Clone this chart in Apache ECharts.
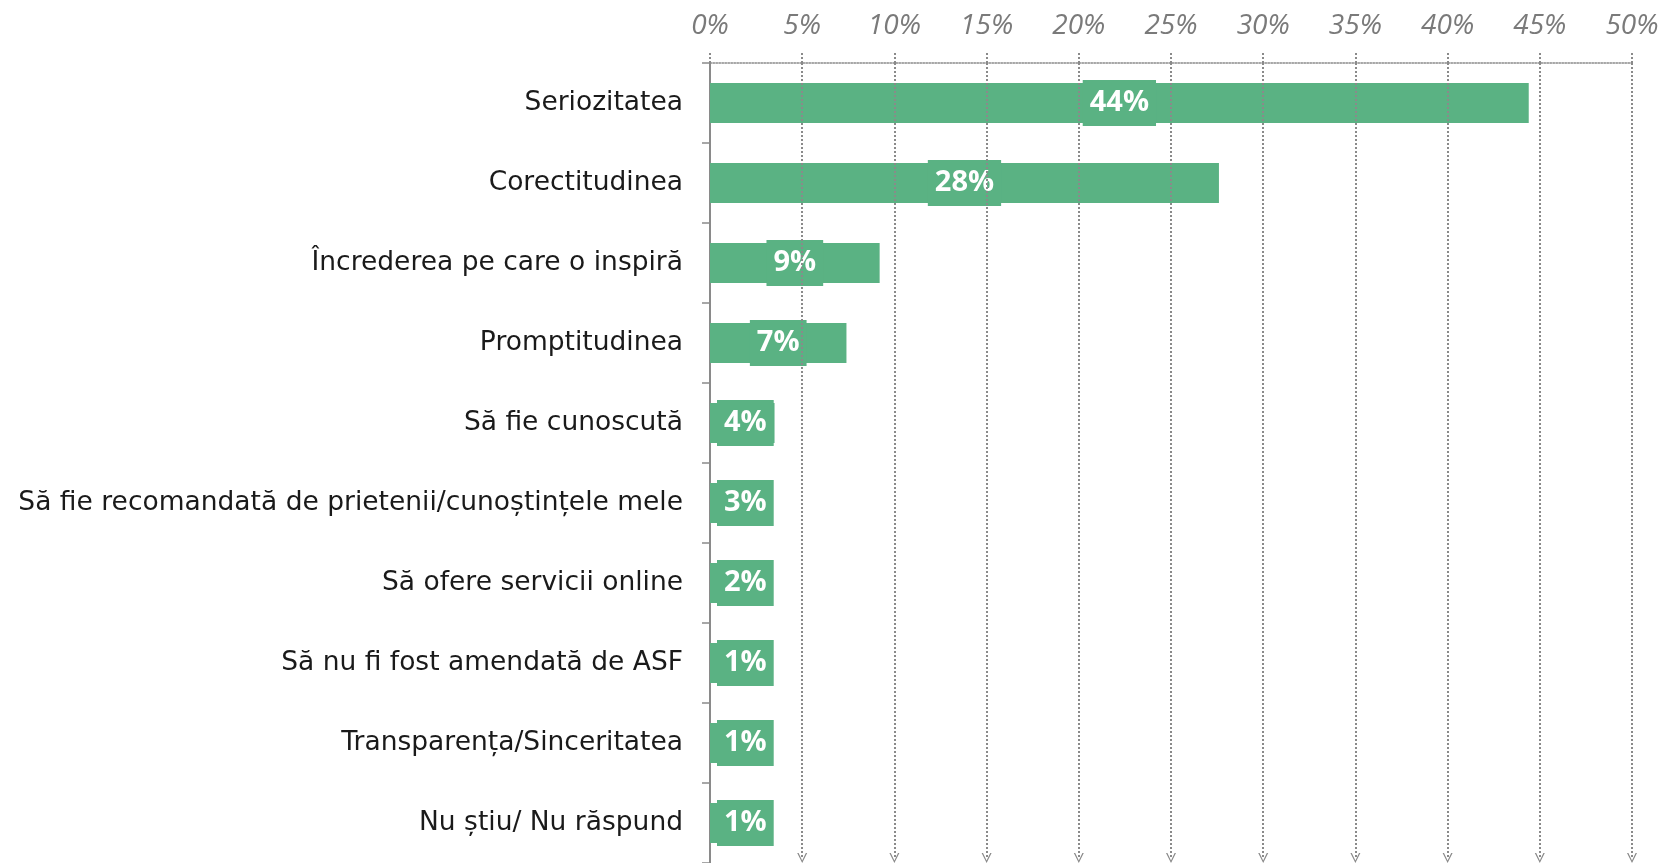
<!DOCTYPE html>
<html>
<head>
<meta charset="utf-8">
<script src="https://cdn.jsdelivr.net/npm/echarts@6/dist/echarts.min.js"></script>
<style>
  html, body { margin: 0; padding: 0; background: #fff; }
  #chart { width: 1670px; height: 863px; }
</style>
</head>
<body>
<div id="chart"></div>
<script>
const categories = [
  "Seriozitatea",
  "Corectitudinea",
  "Încrederea pe care o inspiră",
  "Promptitudinea",
  "Să fie cunoscută",
  "Să fie recomandată de prietenii/cunoștințele mele",
  "Să ofere servicii online",
  "Să nu fi fost amendată de ASF",
  "Transparența/Sinceritatea",
  "Nu știu/ Nu răspund"
];
const values = [44.4, 27.6, 9.2, 7.4, 3.5, 3.2, 2.0, 1.3, 1.1, 0.9];
const ticks = [0, 5, 10, 15, 20, 25, 30, 35, 40, 45, 50];

const green = "#5AB283";
const grey = "#8a8a8a";

const chart = echarts.init(document.getElementById("chart"));

// labels that would not fit sit just right of the axis
const seriesData = values.map(function (v) {
  let item = { value: v };
  if (v < 5) {
    item.label = { position: [7, "50%"], align: "left", verticalAlign: "middle" };
  }
  return item;
});

const option = {
  animation: false,
  grid: [
    { left: 710, top: 63, right: 38, height: 803 },
    { left: 710, top: 63, right: 38, height: 795 }
  ],
  xAxis: [
    {
      type: "value",
      position: "top",
      min: 0,
      max: 50,
      interval: 5,
      axisLine: { show: true, lineStyle: { color: grey, type: "dotted", width: 1.5 } },
      axisTick: { show: true, length: 10, lineStyle: { color: grey, type: "dotted", width: 2 } },
      axisLabel: {
        margin: 23,
        color: "#7a7a7a",
        fontFamily: "Open Sans",
        fontStyle: "italic",
        fontSize: 28,
        formatter: "{value}%"
      },
      splitLine: { show: false }
    },
    { type: "value", gridIndex: 1, min: 0, max: 50, show: false }
  ],
  yAxis: [
    {
      type: "category",
      inverse: true,
      data: categories,
      axisLine: { show: true, lineStyle: { color: grey, width: 2 } },
      axisTick: { show: true, length: 8, lineStyle: { color: grey, width: 1.5 } },
      axisLabel: {
        margin: 27,
        color: "#1a1a1a",
        fontFamily: "DejaVu Sans",
        fontSize: 26.5
      }
    },
    { type: "value", gridIndex: 1, inverse: true, min: 0, max: 1, show: false }
  ],
  series: [
    {
      type: "bar",
      data: seriesData,
      barWidth: 40,
      itemStyle: { color: green },
      label: {
        show: true,
        position: "inside",
        color: "#fff",
        fontFamily: "Open Sans",
        fontWeight: "bold",
        fontSize: 29,
        lineHeight: 36,
        padding: [5, 7, 5, 7],
        backgroundColor: green,
        formatter: function (p) { return Math.round(p.value) + "%"; }
      }
    },
    {
      // dotted grid lines ending in a small arrow head
      type: "line",
      xAxisIndex: 1,
      yAxisIndex: 1,
      data: [[0, 0]],
      symbol: "none",
      silent: true,
      lineStyle: { opacity: 0 },
      markLine: {
        silent: true,
        symbol: ["none", "path://M0,10L5,0L10,10L8.6,10L5,2.6L1.4,10Z"],
        symbolSize: [10, 10],
        label: { show: false },
        lineStyle: { color: grey, type: "dotted", width: 2 },
        data: ticks.slice(1).map(function (t) { return { xAxis: t }; })
      }
    }
  ]
};

chart.setOption(option);
</script>
</body>
</html>
